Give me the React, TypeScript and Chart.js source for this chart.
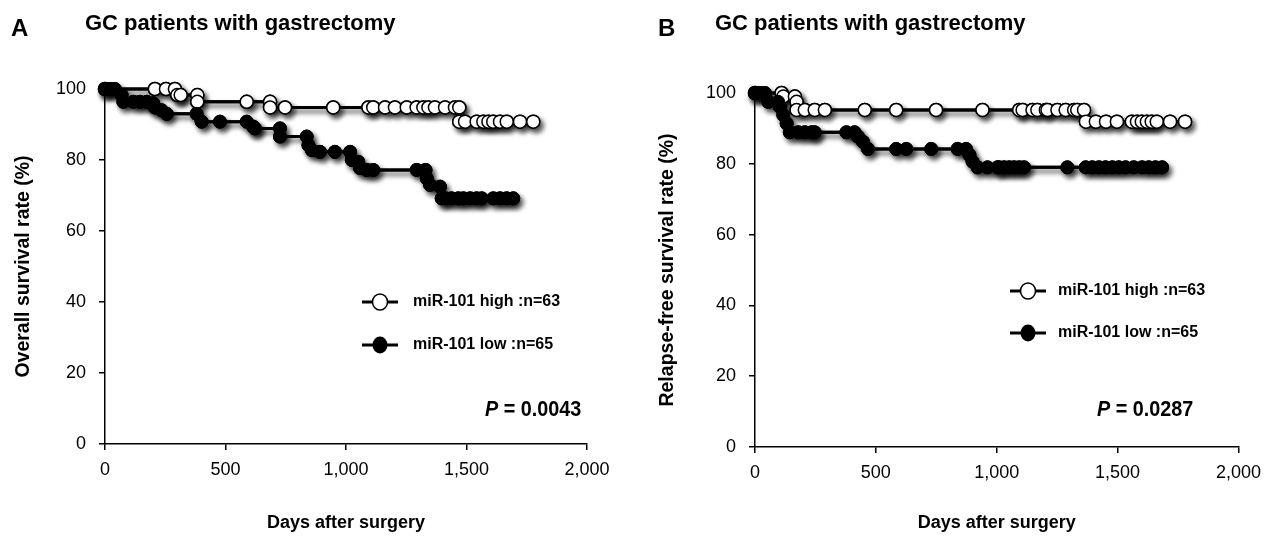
import React, { useEffect, useRef } from 'react';
import { Chart, registerables } from 'chart.js';

Chart.register(...registerables);

const FONT = '"Liberation Sans", Arial, Helvetica, sans-serif';

// ---- tick labels ----
const xTickValues = [0, 500, 1000, 1500, 2000];
const xTickLabels = ['0', '500', '1,000', '1,500', '2,000'];
const yTickValues = [0, 20, 40, 60, 80, 100];
const yTickLabels = ['0', '20', '40', '60', '80', '100'];

// ---- Panel A: overall survival ----
const osHighDays = [0, 207, 253, 290, 300, 314, 383, 383, 588, 685, 685, 747, 947, 1093, 1113, 1162, 1203, 1252, 1293, 1321, 1342, 1369, 1411, 1452, 1470, 1470, 1494, 1542, 1570, 1591, 1611, 1639, 1667, 1722, 1777];
const osHighRate = [100, 100, 100, 100, 98.3, 98.3, 98.3, 96.4, 96.4, 96.4, 94.8, 94.8, 94.8, 94.8, 94.8, 94.8, 94.8, 94.8, 94.8, 94.8, 94.8, 94.8, 94.8, 94.8, 94.8, 90.8, 90.8, 90.8, 90.8, 90.8, 90.8, 90.8, 90.8, 90.8, 90.8];

const osLowDays = [0, 21, 41, 69, 76, 118, 145, 173, 200, 207, 235, 256, 380, 401, 477, 588, 615, 622, 726, 726, 837, 844, 858, 892, 954, 1017, 1024, 1051, 1058, 1086, 1113, 1293, 1330, 1335, 1349, 1390, 1397, 1411, 1438, 1466, 1487, 1515, 1542, 1563, 1611, 1639, 1667, 1694];
const osLowRate = [100, 100, 100, 98.3, 96.4, 96.4, 96.4, 96.4, 96, 94.8, 94, 93, 93, 90.8, 90.8, 90.8, 89.4, 88.9, 88.9, 86.6, 86.6, 84.2, 82.8, 82.3, 82.3, 82.3, 80, 79.5, 77.7, 77.2, 77.2, 77.2, 77.2, 74.8, 73, 72.5, 69.2, 69.2, 69.2, 69.2, 69.2, 69.2, 69.2, 69.2, 69.2, 69.2, 69.2, 69.2];

// ---- Panel B: relapse-free survival ----
const rfsHighDays = [0, 110, 117, 165, 172, 172, 206, 247, 289, 454, 584, 749, 941, 1093, 1107, 1148, 1168, 1203, 1210, 1251, 1285, 1320, 1333, 1361, 1369, 1410, 1452, 1497, 1559, 1580, 1600, 1621, 1641, 1662, 1717, 1779];
const rfsHighRate = [100, 100, 99, 99, 97.5, 95.2, 95.2, 95.2, 95.2, 95.2, 95.2, 95.2, 95.2, 95.2, 95.2, 95.2, 95.2, 95.2, 95.2, 95.2, 95.2, 95.2, 95.2, 95.2, 91.9, 91.9, 91.9, 91.9, 91.9, 91.9, 91.9, 91.9, 91.9, 91.9, 91.9, 91.9];

const rfsLowDays = [0, 21, 41, 55, 96, 103, 117, 131, 144, 179, 206, 234, 247, 378, 412, 426, 447, 467, 584, 626, 729, 838, 873, 887, 900, 921, 962, 1003, 1010, 1031, 1052, 1072, 1093, 1113, 1292, 1368, 1395, 1423, 1450, 1478, 1505, 1533, 1567, 1601, 1629, 1656, 1684];
const rfsLowRate = [100, 100, 100, 97.5, 97.5, 96.1, 93.8, 91.4, 88.9, 88.9, 88.9, 88.9, 88.9, 88.9, 88.9, 87.7, 86.2, 84.2, 84.2, 84.2, 84.2, 84.2, 84.2, 82.5, 80.6, 79, 79, 79, 79, 79, 79, 79, 79, 79, 79, 79, 79, 79, 79, 79, 79, 79, 79, 79, 79, 79, 79];

const legendHigh = 'miR-101 high :n=63';
const legendLow = 'miR-101 low :n=65';

const toPoints = (xs: number[], ys: number[]) => xs.map((x, i) => ({ x, y: ys[i] }));

// Draw datasets once with a drop shadow, then once more cleanly on top
const shadowPlugin = {
  id: 'kmShadow',
  beforeDatasetsDraw(chart: any) {
    const c = chart.ctx;
    c.save();
    c.shadowColor = 'rgba(0,0,0,0.7)';
    c.shadowBlur = 5;
    c.shadowOffsetX = 3;
    c.shadowOffsetY = 4;
  },
  afterDatasetsDraw(chart: any) {
    chart.ctx.restore();
    const metas = chart.getSortedVisibleDatasetMetas();
    for (let i = metas.length - 1; i >= 0; i--) {
      metas[i].controller.draw();
    }
  },
};

type PanelCfg = {
  letter: string;
  letterX: number;
  title: string;
  titleX: number;
  yTitle: string;
  legendLineX1: number;
  legendLineX2: number;
  legendY1: number;
  legendY2: number;
  legendTextX: number;
  pX: number;
  pValue: string;
  padding: { left: number; top: number; right: number; bottom: number };
  yWidth: number;
  xHeight: number;
  yTitlePad: number;
  highDays: number[];
  highRate: number[];
  lowDays: number[];
  lowRate: number[];
};

function makeAnnotPlugin(cfg: PanelCfg) {
  return {
    id: 'annot',
    afterDraw(chart: any) {
      const c = chart.ctx;
      c.save();
      c.fillStyle = '#000';
      c.textBaseline = 'middle';
      c.textAlign = 'left';
      // panel letter
      c.font = `bold 24px ${FONT}`;
      c.fillText(cfg.letter, cfg.letterX, 29);
      // title
      c.font = `bold 22px ${FONT}`;
      c.fillText(cfg.title, cfg.titleX, 24);
      // legend
      const drawItem = (y: number, filled: boolean, text: string) => {
        c.strokeStyle = '#000';
        c.lineWidth = 3;
        c.beginPath();
        c.moveTo(cfg.legendLineX1, y);
        c.lineTo(cfg.legendLineX2, y);
        c.stroke();
        const cx = (cfg.legendLineX1 + cfg.legendLineX2) / 2;
        c.beginPath();
        if (filled) {
          c.ellipse(cx, y, 7.5, 8.5, 0, 0, Math.PI * 2);
          c.fillStyle = '#000';
          c.fill();
        } else {
          c.ellipse(cx, y, 7.5, 8, 0, 0, Math.PI * 2);
          c.fillStyle = '#fff';
          c.fill();
          c.lineWidth = 1.5;
          c.stroke();
        }
        c.fillStyle = '#000';
        c.font = `bold 16px ${FONT}`;
        c.fillText(text, cfg.legendTextX, y);
      };
      drawItem(cfg.legendY1, false, legendHigh);
      drawItem(cfg.legendY2, true, legendLow);
      // P value (slightly condensed)
      c.translate(cfg.pX, 410);
      c.scale(0.9, 1);
      c.font = `italic bold 22px ${FONT}`;
      c.fillText('P', 0, 0);
      const w = c.measureText('P').width;
      c.font = `bold 22px ${FONT}`;
      c.fillText(' = ' + cfg.pValue, w, 0);
      c.restore();
    },
  };
}

function Panel({ cfg, left }: { cfg: PanelCfg; left: number }) {
  const ref = useRef<HTMLCanvasElement | null>(null);
  useEffect(() => {
    if (!ref.current) return;
    const chart = new Chart(ref.current, {
      type: 'scatter',
      data: {
        datasets: [
          {
            label: legendLow,
            data: toPoints(cfg.lowDays, cfg.lowRate),
            showLine: true,
            borderColor: '#000',
            borderWidth: 3,
            pointRadius: 6.5,
            pointBackgroundColor: '#000',
            pointBorderColor: '#000',
            pointBorderWidth: 1,
            clip: false,
          } as any,
          {
            label: legendHigh,
            data: toPoints(cfg.highDays, cfg.highRate),
            showLine: true,
            borderColor: '#000',
            borderWidth: 3,
            pointRadius: 6.5,
            pointBackgroundColor: '#fff',
            pointBorderColor: '#000',
            pointBorderWidth: 1.5,
            clip: false,
          } as any,
        ],
      },
      options: {
        animation: false,
        responsive: false,
        maintainAspectRatio: false,
        layout: { padding: cfg.padding },
        plugins: {
          legend: { display: false },
          tooltip: { enabled: false },
          title: { display: false },
        },
        scales: {
          x: {
            type: 'linear',
            min: 0,
            max: 2000,
            afterBuildTicks: (scale: any) => {
              scale.ticks = xTickValues.map((v) => ({ value: v }));
            },
            afterFit: (scale: any) => {
              scale.height = cfg.xHeight;
            },
            ticks: {
              color: '#000',
              font: { family: FONT, size: 18 },
              padding: 9,
              maxRotation: 0,
              autoSkip: false,
              callback: (v: any) => {
                const i = xTickValues.indexOf(Number(v));
                return i >= 0 ? xTickLabels[i] : '';
              },
            },
            grid: { drawOnChartArea: false, drawTicks: true, tickLength: 6, color: '#000', lineWidth: 1.5 },
            border: { display: true, color: '#000', width: 1.5 },
            title: {
              display: true,
              text: 'Days after surgery',
              color: '#000',
              font: { family: FONT, size: 18, weight: 'bold' },
              padding: { top: 0, bottom: 2 },
            },
          },
          y: {
            type: 'linear',
            min: 0,
            max: 100,
            afterBuildTicks: (scale: any) => {
              scale.ticks = yTickValues.map((v) => ({ value: v }));
            },
            afterFit: (scale: any) => {
              scale.width = cfg.yWidth;
            },
            ticks: {
              color: '#000',
              font: { family: FONT, size: 18 },
              padding: 13,
              callback: (v: any) => {
                const i = yTickValues.indexOf(Number(v));
                return i >= 0 ? yTickLabels[i] : '';
              },
            },
            grid: { drawOnChartArea: false, drawTicks: true, tickLength: 6, color: '#000', lineWidth: 1.5 },
            border: { display: true, color: '#000', width: 1.5 },
            title: {
              display: true,
              text: cfg.yTitle,
              color: '#000',
              font: { family: FONT, size: 19.5, weight: 'bold' },
              padding: { top: cfg.yTitlePad, bottom: 0 },
            },
          },
        },
      } as any,
      plugins: [shadowPlugin, makeAnnotPlugin(cfg)],
    });
    return () => chart.destroy();
  }, [cfg]);
  return (
    <canvas
      ref={ref}
      width={635}
      height={536}
      style={{ position: 'absolute', left, top: 0, width: 635, height: 536 }}
    />
  );
}

const panelA: PanelCfg = {
  letter: 'A',
  letterX: 11,
  title: 'GC patients with gastrectomy',
  titleX: 85,
  yTitle: 'Overall survival rate (%)',
  legendLineX1: 362,
  legendLineX2: 398,
  legendY1: 302,
  legendY2: 345,
  legendTextX: 413,
  pX: 485,
  pValue: '0.0043',
  padding: { left: 0, top: 89, right: 48, bottom: 0 },
  yWidth: 105,
  xHeight: 92,
  yTitlePad: 12,
  highDays: osHighDays,
  highRate: osHighRate,
  lowDays: osLowDays,
  lowRate: osLowRate,
};

const panelB: PanelCfg = {
  letter: 'B',
  letterX: 23,
  title: 'GC patients with gastrectomy',
  titleX: 80,
  yTitle: 'Relapse-free survival rate (%)',
  legendLineX1: 375,
  legendLineX2: 411,
  legendY1: 291,
  legendY2: 333,
  legendTextX: 423,
  pX: 462,
  pValue: '0.0287',
  padding: { left: 0, top: 93, right: 30, bottom: 0 },
  yWidth: 120,
  xHeight: 89,
  yTitlePad: 21,
  highDays: rfsHighDays,
  highRate: rfsHighRate,
  lowDays: rfsLowDays,
  lowRate: rfsLowRate,
};

export default function App() {
  useEffect(() => {
    document.body.style.margin = '0';
  }, []);
  return (
    <div style={{ position: 'relative', width: 1270, height: 536, background: '#fff' }}>
      <Panel cfg={panelA} left={0} />
      <Panel cfg={panelB} left={635} />
    </div>
  );
}
